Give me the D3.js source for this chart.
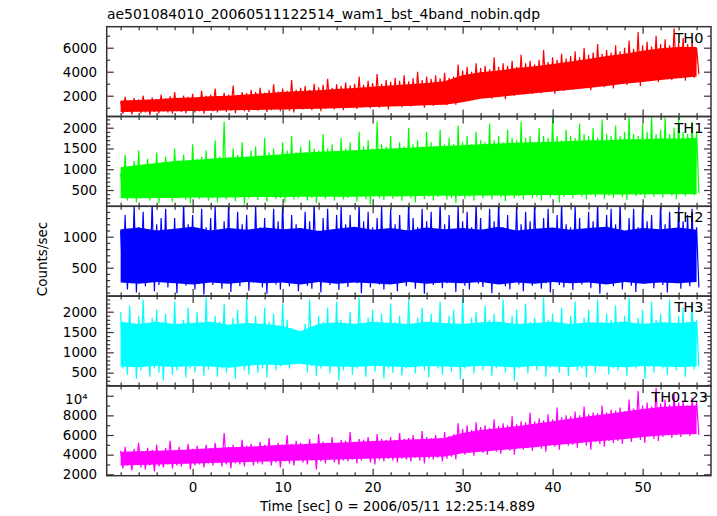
<!DOCTYPE html>
<html><head><meta charset="utf-8">
<script src="https://cdn.jsdelivr.net/npm/d3@7"></script>
<style>body{margin:0;background:#fff}svg{display:block}</style>
</head><body><svg id="c" width="717" height="516"></svg>
<script>
const titleText = "ae501084010_20060511122514_wam1_bst_4band_nobin.qdp";
const xLabelText = "Time [sec] 0 = 2006/05/11 12:25:14.889";
const yLabelText = "Counts/sec";
const panelNames = ["TH0","TH1","TH2","TH3","TH0123"];
const panelColors = ["#ff0000","#00ff00","#0000ff","#00ffff","#ff00ff"];
// peak/trough samples every 0.5 s from -8 s; dense-band edges every 2 s from -8 s
const tStart = -8, tStep = 0.5, coreStep = 2;
const xMajorTicks = [0,10,20,30,40,50];
const xMinorTicks = [-8,-6,-4,-2,2,4,6,8,12,14,16,18,22,24,26,28,32,34,36,38,42,44,46,48,52,54,56];

const th0Hi = [1500,1900,1600,1800,1700,2000,1650,1850,1700,2100,
1800,1950,2300,1750,2000,1900,2150,1850,2400,2000,
2100,2600,1950,2250,2100,2850,2050,2300,2200,2500,
2300,2650,2250,2500,2950,2350,2600,2400,3300,2500,
2650,2800,2500,3000,2700,2900,3400,2650,2950,2800,
3100,2850,3000,3600,2900,3250,3050,3800,3000,3300,
3150,3500,3250,3700,3200,3450,4000,3300,3600,3400,
3700,3450,3900,3500,3600,4600,4100,4400,4000,4700,
4300,4500,4200,5200,4400,4700,4500,4900,4400,5400,
4700,4900,4600,5000,5800,4800,5200,5000,5500,5100,
5300,5700,5200,6000,5400,5600,6300,5500,5800,5600,
6200,5700,6000,6600,5900,7300,6200,6500,6100,7000,
6300,6700,6200,7600,6400,6800,6300,6600,6000];
const th0Lo = [500,650,450,700,550,600,400,650,550,700,
600,500,700,650,550,750,600,700,500,750,
700,600,800,650,750,550,800,700,650,850,
750,850,650,800,900,700,850,750,600,900,
850,950,800,1000,700,900,1050,850,950,800,
1000,1100,900,1050,1150,950,1200,1000,1100,850,
1150,1250,1050,1300,1100,1200,1350,1000,1250,1150,
1300,1400,1200,1450,1250,1650,1800,1600,1900,1700,
1850,2000,1750,2100,1950,1700,2200,2000,2250,2100,
2300,2150,2450,2200,2500,2350,2150,2600,2400,2700,
2500,2750,2600,2900,2450,2800,3000,2700,2950,2600,
3000,3200,2900,3300,3100,2800,3350,3200,3500,3150,
3400,3600,3300,3700,3450,3250,3650,3500,3800];
const th0CoreHi = [1600,1650,1700,1800,1850,1950,2000,2100,2200,2300,2400,2450,2550,2650,2750,2850,2950,3050,3200,3700,3950,4100,4300,4450,4650,4850,5050,5300,5500,5750,5950,6050,6050];
const th0CoreLo = [650,670,690,710,730,750,780,800,830,860,890,920,950,1000,1050,1100,1150,1200,1250,1450,1750,1900,2050,2200,2350,2500,2650,2800,3000,3150,3300,3450,3600];

const th1Hi = [900,1350,1000,1200,1450,1050,1250,1100,1400,1150,
1300,1050,1500,1200,1350,1150,1600,1250,1300,1450,
1200,1700,1300,2150,1250,1500,1350,1650,1300,1450,
1550,1300,1750,1400,1500,1350,1650,1450,1800,1400,
1550,1400,1700,1500,1450,1850,1500,1600,1400,1750,
1500,1650,1450,1900,1550,1700,1500,2150,1600,1550,
1800,1500,1650,1550,2000,1600,1700,1550,1900,1650,
1550,1950,1600,1750,1600,2050,1650,1800,1600,1900,
1700,1650,2100,1700,1800,1650,1950,1750,1700,2150,
1750,1800,1650,2000,1800,1750,2250,1800,1700,1950,
1800,1750,2100,1850,1800,2000,1750,2200,1850,1800,
2050,1800,1900,2300,1850,1800,2100,1900,2300,1850,
1950,2250,1850,2000,2300,1900,1850,2150,1900];
const th1Lo = [400,250,350,200,300,400,250,330,180,300,
350,220,300,400,260,180,320,280,380,240,
300,200,350,270,420,230,320,150,300,360,
260,330,220,380,280,310,200,350,270,300,
380,250,310,180,330,290,400,240,320,270,
310,380,220,340,280,150,350,300,260,390,
290,330,240,360,300,200,370,280,340,250,
330,400,270,310,180,360,290,340,250,380,
300,360,270,420,320,230,380,300,350,280,
390,300,340,250,410,320,360,200,330,380,
300,420,340,270,380,330,440,290,360,310,
400,330,260,420,350,380,300,450,340,390,
320,430,360,280,410,350,450,370,420];
const th1CoreHi = [1050,1100,1150,1200,1220,1250,1280,1300,1330,1360,1400,1420,1440,1460,1480,1500,1520,1540,1560,1580,1600,1620,1640,1650,1660,1680,1700,1700,1720,1720,1740,1740,1750];
const th1CoreLo = [300,300,310,310,320,320,320,330,330,330,340,340,340,340,350,350,350,360,360,360,370,370,370,380,380,380,390,390,390,400,400,400,400];

const th2Hi = [1100,1350,1000,1500,1150,1400,1050,1550,1200,1300,
1450,1100,1300,1050,1550,1200,1350,1000,1450,1150,
1300,1500,1100,1250,1550,1050,1400,1200,1350,1100,
1500,1150,1300,1050,1450,1250,1550,1100,1350,1200,
1050,1400,1250,1550,1100,1300,1450,1000,1350,1500,
1200,1350,1050,1550,1250,1400,1150,1300,1500,1100,
1450,1200,1350,1050,1550,1300,1150,1450,1250,1400,
1100,1550,1200,1350,1050,1500,1250,1400,1150,1550,
1300,1100,1450,1250,1550,1150,1350,1050,1500,1200,
1400,1250,1550,1100,1300,1450,1050,1350,1550,1200,
1150,1500,1300,1050,1400,1250,1550,1100,1350,1450,
1200,1550,1050,1300,1450,1150,1500,1250,1350,1100,
1550,1200,1400,1100,1500,1250,1350,1450,1150];
const th2Lo = [300,150,250,100,350,200,280,120,220,320,
180,260,90,300,210,340,150,240,70,280,
220,320,160,250,110,300,200,340,130,260,
290,180,80,310,230,150,330,200,260,120,
300,210,160,340,100,270,220,310,140,250,
190,330,250,90,290,180,320,230,150,280,
240,120,310,200,270,160,340,80,260,220,
300,170,250,330,110,280,210,150,320,240,
190,290,90,260,340,200,150,310,230,120,
280,210,330,160,250,100,300,220,180,320,
140,270,230,340,170,290,80,250,310,200,
260,150,320,210,110,290,240,330,170,280,
220,100,300,250,160,330,200,270,180];
const th2CoreHi = [1120,1150,1100,1130,1160,1100,1140,1110,1150,1120,1140,1090,1130,1160,1110,1140,1100,1150,1120,1140,1110,1160,1100,1130,1150,1110,1140,1160,1100,1140,1120,1150,1110];
const th2CoreLo = [260,240,270,250,230,260,240,270,250,260,230,270,240,260,250,230,270,240,260,250,270,230,260,240,270,250,260,230,270,240,260,250,270];

const th3Hi = [2000,1700,2150,1600,1900,2300,1650,1850,2050,1600,
1950,1700,2250,1650,1800,2100,1550,2000,1700,2350,
1650,1900,1750,2200,1600,1850,2050,1700,2300,1650,
1900,1600,2100,1750,1950,1550,2200,1800,1600,1500,
1450,1700,2300,1650,1900,1750,2100,1600,2250,1800,
1650,2000,1700,2350,1600,1850,2050,1700,1950,1650,
2200,1750,1900,1600,2300,1700,1850,2100,1650,1950,
1750,2250,1600,1900,2050,1700,2350,1650,1850,2000,
1600,2150,1800,1950,1650,2300,1700,1900,2050,1600,
2200,1750,1850,1650,2350,1800,1950,1700,2100,1650,
1900,2250,1700,1850,2050,1600,2300,1750,1950,1800,
2150,1650,1900,2350,1700,1850,2050,1600,2250,1800,
1950,1700,2300,1650,1900,2100,1750,2200,1800];
const th3Lo = [600,450,700,350,550,750,400,600,500,300,
650,450,550,700,380,600,500,750,420,580,
700,400,600,500,750,350,650,550,450,700,
500,600,380,700,550,650,800,600,750,850,
700,500,650,420,600,750,480,650,300,550,
700,450,600,750,400,650,520,700,350,600,
500,700,430,600,750,480,650,550,380,700,
600,450,700,520,650,330,600,750,470,650,
550,700,420,600,750,500,650,300,600,700,
480,650,550,750,400,620,700,500,650,420,
700,550,600,380,750,500,650,700,450,600,
550,750,420,650,600,700,350,650,500,720,
600,450,700,550,650,400,720,580,650];
const th3CoreHi = [1750,1700,1750,1700,1720,1750,1680,1720,1700,1650,1520,1700,1740,1700,1750,1720,1700,1750,1720,1700,1740,1750,1700,1720,1750,1700,1740,1720,1750,1700,1740,1720,1750];
const th3CoreLo = [650,630,670,640,660,650,620,670,700,680,720,660,650,640,670,650,630,660,650,640,670,650,630,660,650,640,670,650,630,660,650,640,650];

const th0123Hi = [4400,4800,4200,4600,5200,4300,4700,4500,5000,4400,
4700,5400,4500,4800,4400,5100,4600,4900,4500,5000,
4700,5200,4600,6200,4800,5000,4700,5500,4900,5100,
4800,5300,5000,5700,4900,5200,5000,6000,5100,5400,
5200,5000,5600,5100,6100,5300,5200,5800,5100,5500,
5400,6300,5300,5600,5500,5800,5300,6100,5600,5500,
5800,5500,6200,5600,5700,6000,5500,6400,5800,5700,
6000,5700,6300,5900,6100,7200,6600,7000,6500,7300,
6800,7000,6700,7600,6900,7200,7000,7900,7100,7400,
7300,8300,7400,7700,7500,8100,7600,8800,7800,8000,
7900,8400,8000,8900,8100,8300,8200,9000,8300,8600,
8500,8800,8400,9600,8700,10500,9000,9300,8900,10800,
9200,9600,9100,10200,9300,9500,9000,9800,9400];
const th0123Lo = [2600,2900,2400,3000,2700,2500,2900,2300,2800,2700,
3000,2600,2900,2800,3100,2500,2900,3000,2700,3100,
2900,3200,2800,3000,2600,3100,3000,2800,3300,2900,
3100,3000,3300,2900,3200,2700,3300,3100,2900,3400,
3200,3000,3400,2500,3300,3100,3500,3200,3000,3400,
3300,3500,3100,3400,3600,3200,3000,3500,3300,3600,
3400,3200,3600,3500,3300,3700,3400,3100,3600,3500,
3700,3300,3600,3800,3500,4300,4000,4200,3900,4400,
4200,4000,4500,4300,4100,4600,4400,4000,4700,4500,
4700,4400,4900,4600,4300,5000,4800,4500,5100,4900,
5000,4700,5200,4900,4500,5300,5100,4800,5400,5200,
5400,5100,5600,5300,5700,5500,5200,5900,5600,5400,
5800,6100,5700,6000,5800,6300,5900,6200,6000];
const th0123CoreHi = [4300,4350,4400,4450,4550,4650,4750,4800,4900,5000,5050,5150,5200,5300,5400,5450,5550,5600,5700,6200,6500,6700,6900,7150,7400,7650,7900,8150,8400,8650,8850,8950,9000];
const th0123CoreLo = [2900,2950,3000,3050,3100,3150,3200,3250,3300,3350,3400,3450,3500,3550,3600,3650,3700,3750,3800,4150,4300,4450,4600,4750,4950,5100,5300,5450,5600,5800,5950,6050,6100];

const seriesHi = [th0Hi, th1Hi, th2Hi, th3Hi, th0123Hi];
const seriesLo = [th0Lo, th1Lo, th2Lo, th3Lo, th0123Lo];
const coreHi = [th0CoreHi, th1CoreHi, th2CoreHi, th3CoreHi, th0123CoreHi];
const coreLo = [th0CoreLo, th1CoreLo, th2CoreLo, th3CoreLo, th0123CoreLo];
const yDomains = [[267,7750],[108,2270],[42,1490],[173,2384],[1857,11000]];
const yMajorTicks = [[2000,4000,6000],[500,1000,1500,2000],[500,1000],[500,1000,1500,2000],[2000,4000,6000,8000,10000]];
const yMinorTicks = [
  [1000,3000,5000,7000],
  [200,300,400,600,700,800,900,1100,1200,1300,1400,1600,1700,1800,1900,2100,2200],
  [100,200,300,400,600,700,800,900,1100,1200,1300,1400],
  [200,300,400,600,700,800,900,1100,1200,1300,1400,1600,1700,1800,1900,2100,2200,2300],
  [3000,5000,7000,9000]
];

const FONT = "'DejaVu Sans', sans-serif";
const svg = d3.select("#c");
const L = 106.7, R = 711, T = 26.7, PH = 89.8;
const x = d3.scaleLinear().domain([-9.55, 57.6]).range([L, R]);
const AX = "#333";

function styleAxis(g, fs) {
  g.select(".domain").remove();
  g.selectAll(".tick line").attr("stroke", AX).attr("stroke-width", 1.2);
  g.selectAll("text").attr("font-family", FONT).attr("font-size", fs).attr("fill", "#000");
}

panelNames.forEach((name, k) => {
  const top = T + k * PH;
  const y = d3.scaleLinear().domain(yDomains[k]).range([top + PH, top]);
  const clipId = "clip" + k;
  svg.append("clipPath").attr("id", clipId).append("rect")
    .attr("x", L).attr("y", top).attr("width", R - L).attr("height", PH);
  const gData = svg.append("g").attr("clip-path", `url(#${clipId})`);

  const lo = seriesLo[k];
  const pts = [];
  seriesHi[k].forEach((h, i) => {
    const t = tStart + i * tStep;
    pts.push([t, h]);
    pts.push([t + tStep / 2, lo[i]]);
  });
  gData.append("path").datum(pts)
    .attr("fill", "none").attr("stroke", panelColors[k]).attr("stroke-width", 1.2)
    .attr("stroke-linejoin", "miter")
    .attr("d", d3.line().x(d => x(d[0])).y(d => y(d[1])));

  const cLo = coreLo[k];
  gData.append("path").datum(coreHi[k])
    .attr("fill", panelColors[k])
    .attr("d", d3.area()
      .x((d, i) => x(tStart + i * coreStep))
      .y0((d, i) => y(cLo[i]))
      .y1(d => y(d)));

  const isLast = k === panelNames.length - 1;
  svg.append("g").attr("transform", `translate(0,${top})`)
    .call(d3.axisTop(x).tickValues(xMajorTicks).tickSize(-7).tickSizeOuter(0).tickFormat(""))
    .call(g => styleAxis(g, 13.5));
  svg.append("g").attr("transform", `translate(0,${top})`)
    .call(d3.axisTop(x).tickValues(xMinorTicks).tickSize(-3.5).tickSizeOuter(0).tickFormat(""))
    .call(g => styleAxis(g, 13.5));
  svg.append("g").attr("transform", `translate(0,${top + PH})`)
    .call(d3.axisBottom(x).tickValues(xMajorTicks).tickSize(-7).tickSizeOuter(0).tickPadding(6.7)
      .tickFormat(isLast ? d3.format("d") : ""))
    .call(g => styleAxis(g, 13.5));
  svg.append("g").attr("transform", `translate(0,${top + PH})`)
    .call(d3.axisBottom(x).tickValues(xMinorTicks).tickSize(-3.5).tickSizeOuter(0).tickFormat(""))
    .call(g => styleAxis(g, 13.5));

  const fmt = v => v === 10000 ? "10\u2074" : String(v);
  svg.append("g").attr("transform", `translate(${L},0)`)
    .call(d3.axisLeft(y).tickValues(yMajorTicks[k]).tickSize(-7).tickSizeOuter(0).tickPadding(9.5).tickFormat(fmt))
    .call(g => styleAxis(g, 13.5))
    .call(g => g.selectAll("text").filter(function(){ return this.textContent === "10\u2074"; })
      .attr("x", -19).attr("dy", "0.55em"));
  svg.append("g").attr("transform", `translate(${L},0)`)
    .call(d3.axisLeft(y).tickValues(yMinorTicks[k]).tickSize(-3.5).tickSizeOuter(0).tickFormat(""))
    .call(g => styleAxis(g, 13.5));
  svg.append("g").attr("transform", `translate(${R},0)`)
    .call(d3.axisRight(y).tickValues(yMajorTicks[k]).tickSize(-7).tickSizeOuter(0).tickFormat(""))
    .call(g => styleAxis(g, 13.5));
  svg.append("g").attr("transform", `translate(${R},0)`)
    .call(d3.axisRight(y).tickValues(yMinorTicks[k]).tickSize(-3.5).tickSizeOuter(0).tickFormat(""))
    .call(g => styleAxis(g, 13.5));

  svg.append("rect").attr("x", L).attr("y", top).attr("width", R - L).attr("height", PH)
    .attr("fill", "none").attr("stroke", AX).attr("stroke-width", 1.5);

  svg.append("text").attr("x", isLast ? 708 : 703.5).attr("y", top + 16)
    .attr("text-anchor", "end").attr("font-family", FONT).attr("font-size", 14.5)
    .text(name);
});

svg.append("text").attr("x", 107).attr("y", 19.3)
  .attr("font-family", FONT).attr("font-size", 13.5)
  .attr("textLength", 433).attr("lengthAdjust", "spacingAndGlyphs")
  .text(titleText);

svg.append("text").attr("x", 260).attr("y", 511)
  .attr("font-family", FONT).attr("font-size", 13.5)
  .attr("textLength", 275).attr("lengthAdjust", "spacingAndGlyphs")
  .text(xLabelText);

svg.append("text").attr("transform", "translate(46.5,259) rotate(-90)")
  .attr("text-anchor", "middle").attr("font-family", FONT).attr("font-size", 13.5)
  .text(yLabelText);
</script>
</body></html>
